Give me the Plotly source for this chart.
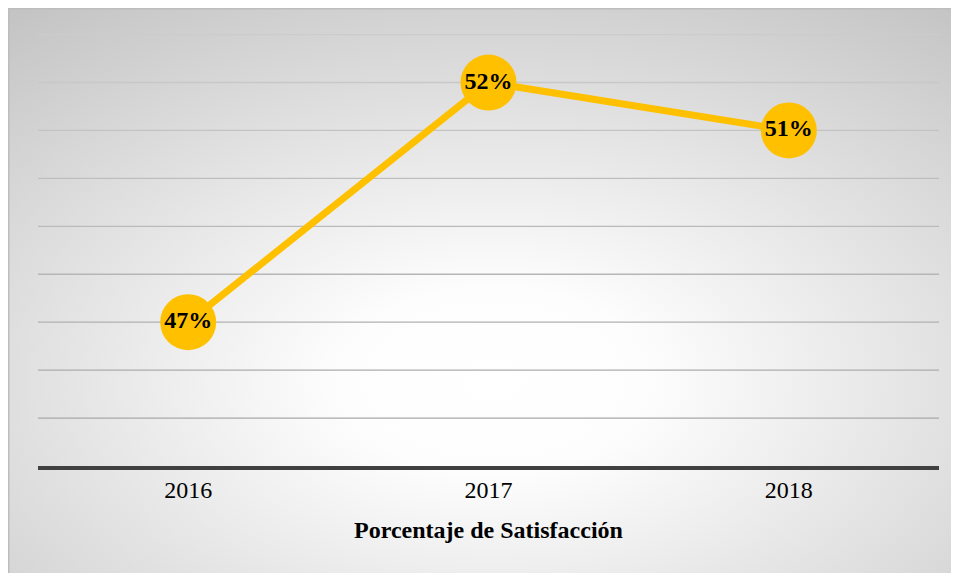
import base64
import plotly.graph_objects as go

years = ["2016", "2017", "2018"]
satisfaction = [47, 52, 51]
labels = ["47%", "52%", "51%"]
axis_title = "Porcentaje de Satisfacción"
grid_values = [45, 46, 47, 48, 49, 50, 51, 52, 53]

# page has an 8px body margin; the figure is sized to fill the rest of the window
W, H = 951, 565
ML, MR, MT, MB = 30, 20, 17, 107
PW, PH = W - ML - MR, H - MT - MB

svg = (
    '<svg xmlns="http://www.w3.org/2000/svg" width="951" height="565" preserveAspectRatio="none">'
    '<defs><radialGradient id="g" cx="51%" cy="66%" r="82%">'
    '<stop offset="0" stop-color="#ffffff"/>'
    '<stop offset="0.2" stop-color="#fdfdfd"/>'
    '<stop offset="1" stop-color="#c4c4c4"/>'
    '</radialGradient></defs>'
    '<rect width="951" height="565" fill="url(#g)"/></svg>'
)
src = "data:image/svg+xml;base64," + base64.b64encode(svg.encode()).decode()

def px_x(p):
    return (p - ML) / PW

def px_y(p):
    return (H - MB - p) / PH

fig = go.Figure()

# gridlines, darker near the bottom, lighter near the top
for i, v in enumerate(grid_values):
    t = i / (len(grid_values) - 1)
    c = int(round(168 + t * (204 - 168)))
    fig.add_shape(type="line", xref="paper", yref="y", x0=0, x1=1, y0=v, y1=v,
                  line=dict(color=f"rgb({c},{c},{c})", width=1.3), layer="below")

fig.add_trace(go.Scatter(
    x=years, y=satisfaction, text=labels,
    mode="lines+markers+text",
    line=dict(color="#FFC000", width=7),
    marker=dict(size=56, color="#FFC000"),
    textposition="middle center",
    textfont=dict(family="Liberation Serif", size=24, color="#000000", weight="bold"),
    hoverinfo="skip",
    cliponaxis=False,
))

fig.add_layout_image(dict(
    source=src, xref="paper", yref="paper",
    x=px_x(0), y=px_y(0), sizex=px_x(W) - px_x(0), sizey=px_y(0) - px_y(H),
    xanchor="left", yanchor="top", sizing="stretch", layer="below",
))
fig.add_shape(type="line", xref="paper", yref="paper",
              x0=px_x(0), x1=px_x(W), y0=px_y(0.75), y1=px_y(0.75),
              line=dict(color="#bdbdbd", width=1.5))
fig.add_shape(type="line", xref="paper", yref="paper",
              x0=px_x(0.75), x1=px_x(0.75), y0=px_y(0), y1=px_y(H),
              line=dict(color="#bdbdbd", width=1.5))

fig.update_layout(
    width=W, height=H,
    margin=dict(l=ML, r=MR, t=MT, b=MB),
    paper_bgcolor="#ffffff",
    plot_bgcolor="rgba(0,0,0,0)",
    showlegend=False,
    font=dict(family="Liberation Serif", color="#000000"),
    xaxis=dict(
        type="category", range=[-0.5, 2.5],
        showgrid=False, showline=True, linecolor="#404040", linewidth=4,
        ticks="", tickfont=dict(size=24, color="#000000"), ticklabelstandoff=-1,
        title=dict(text=axis_title, font=dict(size=24, color="#000000", weight="bold"), standoff=20),
        zeroline=False, fixedrange=True,
    ),
    yaxis=dict(
        range=[44, 53.2], dtick=1, tick0=44,
        showgrid=False,
        showticklabels=False, zeroline=False, showline=False, fixedrange=True,
    ),
)

fig.write_html("out.html")
